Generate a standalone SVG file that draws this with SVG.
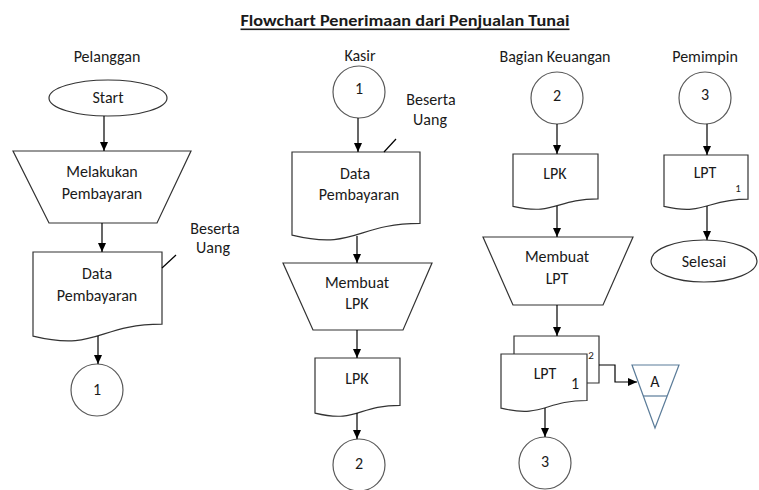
<svg xmlns="http://www.w3.org/2000/svg" width="759" height="490" viewBox="0 0 759 490">
<defs>
<marker id="ah" markerUnits="userSpaceOnUse" markerWidth="10" markerHeight="9" refX="9" refY="4" orient="auto">
<path d="M0,0 L9,4 L0,8 z" fill="#000"/>
</marker>
<style>
text{font-family:Carlito,Lato,"Liberation Sans",sans-serif;font-size:16px;fill:#1a1a1a;text-anchor:middle;dominant-baseline:central}
.title{font-size:16px;font-weight:bold;text-decoration:underline}
.sm{font-size:11px}
.shape{fill:#fff;stroke:#333;stroke-width:1.2}
.circ{fill:#fff;stroke:#595959;stroke-width:1.2}
.tri{fill:#fff;stroke:#5b7c99;stroke-width:1.2}
.ln{fill:none;stroke:#000;stroke-width:1.2}
.arr{fill:none;stroke:#000;stroke-width:1.2;marker-end:url(#ah)}
</style>
</defs>
<rect width="759" height="490" fill="#fff"/>
<text class="title" x="405" y="20" textLength="329" lengthAdjust="spacingAndGlyphs">Flowchart Penerimaan dari Penjualan Tunai</text>

<g id="lanes">
<text x="107" y="56">Pelanggan</text>
<text x="360" y="55">Kasir</text>
<text x="555" y="56">Bagian Keuangan</text>
<text x="705" y="56">Pemimpin</text>
</g>

<g id="start">
<ellipse class="shape" cx="108" cy="98" rx="59" ry="18"/>
<text x="108" y="97">Start</text>
</g>
<g id="melakukan">
<path class="shape" d="M13,151 H191 L157,223 H49 Z"/>
<text x="102" y="171">Melakukan</text>
<text x="102" y="193">Pembayaran</text>
</g>
<g id="data1">
<path class="shape" d="M33,252 H162 V324.2 C97.5,324.2 97.5,351.7 33,336.1 Z"/>
<text x="97" y="273">Data</text>
<text x="97" y="295">Pembayaran</text>
<line class="ln" x1="162" y1="268" x2="176" y2="255"/>
<text x="215" y="228">Beserta</text>
<text x="213" y="247">Uang</text>
</g>
<g id="c1a">
<circle class="circ" cx="97" cy="390" r="26"/>
<text x="97" y="389">1</text>
</g>

<g id="c1b">
<circle class="circ" cx="359" cy="92" r="26"/>
<text x="359" y="88">1</text>
</g>
<g id="data2">
<path class="shape" d="M292,152 H420 V223.4 C356,223.4 356,250.6 292,235.1 Z"/>
<text x="355" y="173">Data</text>
<text x="359" y="194">Pembayaran</text>
<line class="ln" x1="384" y1="152" x2="396" y2="139"/>
<text x="431" y="99">Beserta</text>
<text x="430" y="119">Uang</text>
</g>
<g id="membuatlpk">
<path class="shape" d="M283,263 H432 L403,330 H313 Z"/>
<text x="357" y="282">Membuat</text>
<text x="357" y="303">LPK</text>
</g>
<g id="lpk1">
<path class="shape" d="M315,358 H400 V405.3 C357.5,405.3 357.5,423.4 315,413.1 Z"/>
<text x="357" y="378">LPK</text>
</g>
<g id="c2a">
<circle class="circ" cx="359" cy="465" r="26"/>
<text x="359" y="463">2</text>
</g>

<g id="c2b">
<circle class="circ" cx="557" cy="98" r="26"/>
<text x="557" y="95">2</text>
</g>
<g id="lpk2">
<path class="shape" d="M513,154 H598 V198.9 C555.5,198.9 555.5,216 513,206.3 Z"/>
<text x="555" y="173">LPK</text>
</g>
<g id="membuatlpt">
<path class="shape" d="M483,237 H633 L603,305 H513 Z"/>
<text x="557" y="256">Membuat</text>
<text x="557" y="278">LPT</text>
</g>
<g id="lpt2">
<path class="shape" d="M514,354 V336 H599 V383 H587"/>
<text class="sm" x="591" y="355">2</text>
<path class="shape" d="M501,354 H587 V400.5 C544,400.5 544,418.3 501,408.2 Z"/>
<text x="545" y="373">LPT</text>
<text x="575" y="383">1</text>
</g>
<g id="arsipA">
<path class="tri" d="M632,365 H679 L655,428 Z"/>
<line class="tri" x1="643" y1="396" x2="667" y2="396"/>
<text x="655" y="381">A</text>
</g>
<g id="c3a">
<circle class="circ" cx="545" cy="463" r="26"/>
<text x="545" y="461">3</text>
</g>

<g id="c3b">
<circle class="circ" cx="705" cy="98" r="26"/>
<text x="705" y="94">3</text>
</g>
<g id="lpt1">
<path class="shape" d="M664,155 H748 V199.1 C706,199.1 706,215.9 664,206.4 Z"/>
<text x="705" y="172">LPT</text>
<text class="sm" x="738" y="188">1</text>
</g>
<g id="selesai">
<ellipse class="shape" cx="704" cy="261" rx="53" ry="21"/>
<text x="704" y="261">Selesai</text>
</g>

<g id="connectors">
<line class="arr" x1="104" y1="116" x2="104" y2="151"/>
<line class="arr" x1="102" y1="223" x2="102" y2="252"/>
<line class="arr" x1="98" y1="336" x2="98" y2="364"/>
<line class="arr" x1="358" y1="118" x2="358" y2="152"/>
<line class="arr" x1="357" y1="236" x2="357" y2="263"/>
<line class="arr" x1="357" y1="330" x2="357" y2="358"/>
<line class="arr" x1="357" y1="413" x2="357" y2="439"/>
<line class="arr" x1="557" y1="124" x2="557" y2="154"/>
<line class="arr" x1="557" y1="206" x2="557" y2="237"/>
<line class="arr" x1="557" y1="305" x2="557" y2="336"/>
<polyline class="arr" points="599,365 615,365 615,382 637,382"/>
<line class="arr" x1="545" y1="408" x2="545" y2="437"/>
<line class="arr" x1="707" y1="124" x2="707" y2="155"/>
<line class="arr" x1="707" y1="206" x2="707" y2="240"/>
</g>
</svg>
